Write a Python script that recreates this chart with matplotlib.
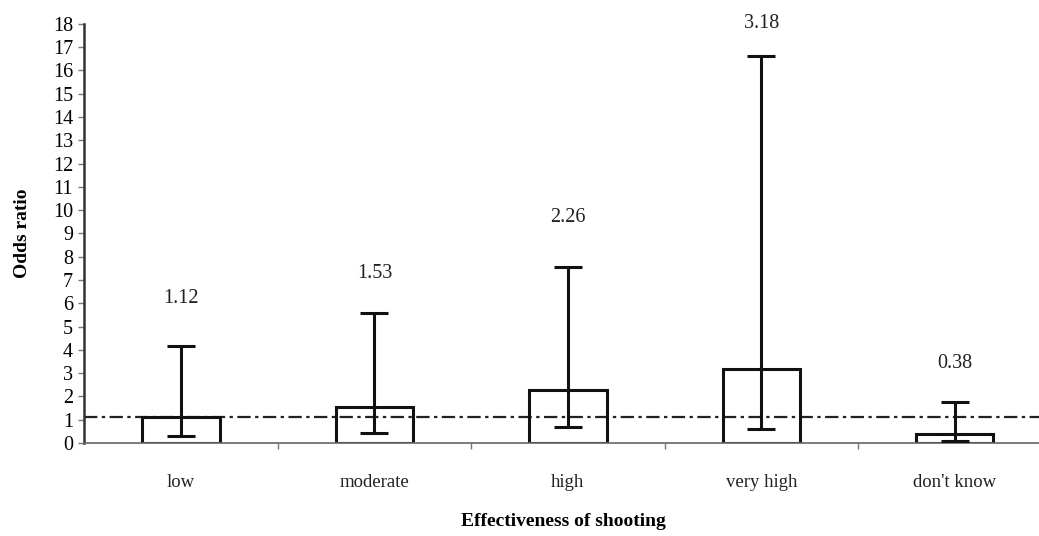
import numpy as np
import matplotlib.pyplot as plt

plt.rcParams['font.family'] = ['Liberation Serif', 'DejaVu Serif']

categories = ["low", "moderate", "high", "very high", "don't know"]
odds = [1.12, 1.53, 2.26, 3.18, 0.38]
ci_low = [0.30, 0.42, 0.68, 0.58, 0.08]
ci_high = [4.15, 5.60, 7.55, 16.60, 1.75]
label_y = [6.2, 7.3, 9.7, 18.0, 3.4]
ref_line = 1.12

x = np.arange(len(categories))
odds_arr = np.array(odds)
yerr = [odds_arr - np.array(ci_low), np.array(ci_high) - odds_arr]

fig = plt.figure(figsize=(10.39, 5.36), dpi=100)
ax = fig.add_axes([0.081, 0.1735, 0.931, 0.782])

ax.axhline(ref_line, color='#222222', lw=1.6, ls=(0, (6, 2, 1.5, 2)), zorder=1)
ax.bar(x, odds, width=0.4, facecolor='none', edgecolor='#111111', lw=2.2, zorder=2)
ax.errorbar(x, odds, yerr=yerr, fmt='none', ecolor='#111111', elinewidth=2.2,
            capsize=10, capthick=2.2, zorder=3)

for xi, v, ly in zip(x, odds, label_y):
    ax.text(xi, ly, f"{v:.2f}", ha='center', va='center', fontsize=14.5, color='#222222')

ax.set_xlim(-0.5, 4.5)
ax.set_ylim(0, 18)
ax.set_yticks(range(0, 19))
ax.tick_params(axis='y', labelsize=14.5, length=4, width=1, color='#777777', pad=4)

ax.set_xticks(x)
ax.set_xticklabels(categories, fontsize=13.5, color='#222222')
ax.set_xticks(np.arange(0.5, 4.5, 1), minor=True)
ax.tick_params(axis='x', which='major', length=0, pad=22)
ax.tick_params(axis='x', which='minor', length=4, width=1, color='#777777')

ax.spines['top'].set_visible(False)
ax.spines['right'].set_visible(False)
ax.spines['left'].set_color('#333333')
ax.spines['left'].set_linewidth(1.8)
ax.spines['bottom'].set_color('#666666')
ax.spines['bottom'].set_linewidth(1.2)

ax.set_ylabel("Odds ratio", fontsize=14, fontweight='bold')
ax.yaxis.set_label_coords(-0.055, 0.5)
ax.set_xlabel("Effectiveness of shooting", fontsize=14, fontweight='bold')
ax.xaxis.set_label_coords(0.4955, -0.168)

fig.savefig("out.png", dpi=100)
